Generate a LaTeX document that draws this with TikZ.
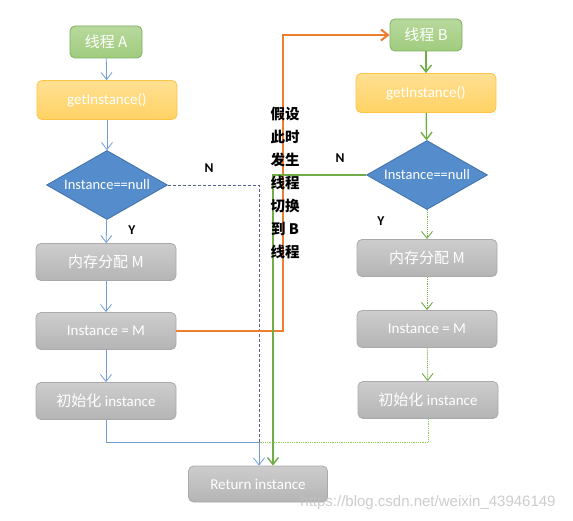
\documentclass[tikz,border=0pt]{standalone}
\usepackage{fontspec}
\setmainfont{Carlito}
\newfontfamily\cjk{Noto Sans CJK SC}
\newfontfamily\wmfont{Liberation Sans}
\usetikzlibrary{arrows.meta,shapes.geometric}
\definecolor{greenfill}{RGB}{160,204,125}
\definecolor{greenborder}{RGB}{125,175,95}
\definecolor{yellowfill}{RGB}{255,210,100}
\definecolor{yellowborder}{RGB}{255,195,70}
\definecolor{bluefill}{RGB}{84,140,204}
\definecolor{blueborder}{RGB}{65,113,170}
\definecolor{grayfill}{RGB}{196,196,196}
\definecolor{grayborder}{RGB}{170,170,170}
\definecolor{blueline}{RGB}{115,155,215}
\definecolor{orangeline}{RGB}{237,125,49}
\definecolor{greenline}{RGB}{112,173,71}
\definecolor{dotgreen}{RGB}{146,208,80}
\definecolor{dashline}{RGB}{85,95,145}
\tikzset{
  box/.style={rectangle, rounded corners=5pt, draw, line width=0.8pt, text=white,
    minimum width=140pt, minimum height=37pt, font=\fontsize{15}{17}\selectfont},
  startbox/.style={box, minimum width=72pt, minimum height=32pt,
    top color=greenfill!75!white, bottom color=greenfill, draw=greenborder},
  callbox/.style={box, minimum height=39pt,
    top color=yellowfill!70!white, bottom color=yellowfill, draw=yellowborder},
  stepbox/.style={box, top color=grayfill!85!white, bottom color=grayfill!92!black, draw=grayborder},
  decision/.style={diamond, draw=blueborder, fill=bluefill, line width=0.8pt, inner sep=0pt,
    minimum width=121pt, minimum height=69pt, text=white, font=\fontsize{14.5}{16}\selectfont},
  tip/.style={-{Straight Barb[length=7pt,width=11pt]}},
  bluearrow/.style={tip, draw=blueline, line width=0.8pt},
  greenarrow/.style={tip, draw=greenline, line width=1.4pt},
  dotarrow/.style={tip, draw=greenline, line width=0.9pt, densely dotted},
  yn/.style={font=\bfseries\fontsize{13.5}{15}\selectfont}
}
\begin{document}
\begin{tikzpicture}[x=1pt, y=-1pt]
  \useasboundingbox (0,0) rectangle (573,521);
  % thread A
  \node[startbox] (tA) at (106,42) {\cjk 线程\ A};
  \node[callbox] (gA) at (107,100) {getInstance()};
  \node[decision] (dA) at (107,185) {\makebox[0pt]{Instance==null}};
  \node[stepbox] (mA) at (106,262) {\cjk 内存分配\ M};
  \node[stepbox] (sA) at (106,331) {Instance = M};
  \node[stepbox] (iA) at (106,401) {{\cjk 初始化} instance};
  % thread B
  \node[startbox] (tB) at (426,35) {\cjk 线程\ B};
  \node[callbox] (gB) at (426,93) {getInstance()};
  \node[decision] (dB) at (427,175) {\makebox[0pt]{Instance==null}};
  \node[stepbox] (mB) at (427,258) {\cjk 内存分配\ M};
  \node[stepbox] (sB) at (427,329) {Instance = M};
  \node[stepbox] (iB) at (428,400) {{\cjk 初始化} instance};
  \node[stepbox, minimum width=139pt, minimum height=36pt] (ret) at (258,484) {Return instance};
  \coordinate (jn) at (259,442);
  \coordinate (sw) at (283,35);
  \coordinate (gd) at (273,175);
  % connectors of A
  \draw[bluearrow] (tA) -- (gA);
  \draw[bluearrow] (gA) -- (dA);
  \draw[bluearrow] (dA) -- (mA);
  \draw[bluearrow] (mA) -- (sA);
  \draw[bluearrow] (sA) -- (iA);
  \draw[dashline, densely dashed, line width=0.6pt] (dA.east) -| (jn);
  \draw[bluearrow] (iA.south) |- (jn) -- (jn |- ret.north);
  % switch to B
  \draw[tip, draw=orangeline, line width=2pt] (sA.east) -| (sw) -- (tB.west);
  % connectors of B
  \draw[greenarrow] (tB) -- (gB);
  \draw[greenarrow] (gB) -- (dB);
  \draw[dotarrow] (dB) -- (mB);
  \draw[dotarrow] (mB) -- (sB);
  \draw[dotarrow] (sB) -- (iB);
  \draw[dotgreen, densely dotted, line width=0.8pt] (iB.south) |- (jn);
  \draw[greenarrow] (dB.west) -- (gd) -- (gd |- ret.north);
  % labels
  \node[yn] (nA) at (209,168) {N};
  \node[yn] (yA) at (132,230) {Y};
  \node[yn] (nB) at (340,158) {N};
  \node[yn] (yB) at (381,221) {Y};
  \node[align=center, font=\cjk\bfseries\fontsize{14.5}{23}\selectfont] (note) at (285,183)
    {假设\\此时\\发生\\线程\\切换\\到\ B\\线程};
  \node[font=\wmfont\fontsize{15}{17}\selectfont, text=gray!50, opacity=0.8] (wm) at (428,503)
    {https://blog.csdn.net/weixin\_43946149};
\end{tikzpicture}
\end{document}
